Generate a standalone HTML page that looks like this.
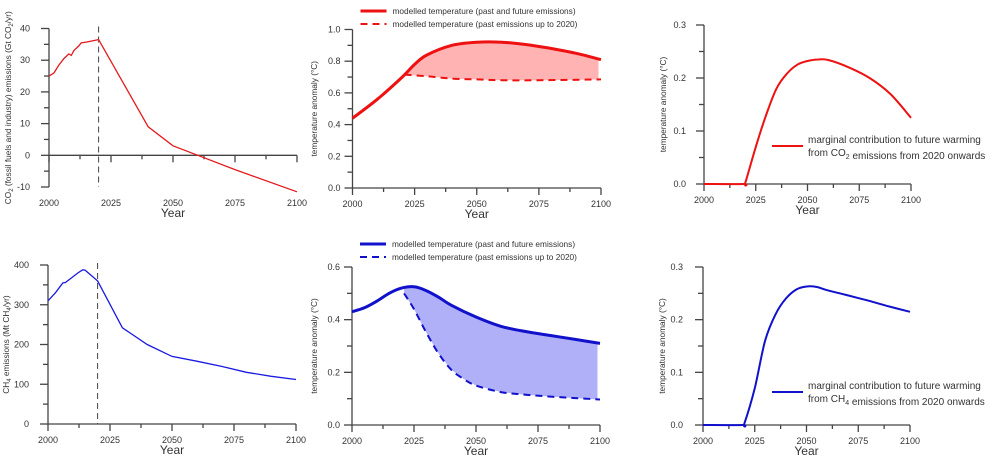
<!DOCTYPE html>
<html><head><meta charset="utf-8">
<style>
html,body{margin:0;padding:0;background:#fff;width:1000px;height:466px;overflow:hidden}
svg text{font-family:"Liberation Sans",Arial,sans-serif;fill:#333}
</style></head>
<body>
<svg id="chart" width="1000" height="466" viewBox="0 0 1000 466" xmlns="http://www.w3.org/2000/svg"></svg>
<script>
// ---- data ----
const xTicks = [2000, 2025, 2050, 2075, 2100];
const co2EmYears = [2000,2002,2004,2006,2008,2009,2010,2012,2013,2015,2020,2040,2050,2060,2075,2100];
const co2EmValues = [25,26,28.5,30.5,32,31.5,33,34.5,35.5,35.7,36.5,9,3,0,-4.5,-11.5];
const co2TempYears = [2000,2010,2020,2025,2030,2040,2050,2060,2070,2080,2090,2100];
const co2TempFull = [0.44,0.56,0.70,0.78,0.84,0.90,0.92,0.92,0.905,0.88,0.85,0.81];
const co2PastYears = [2021,2030,2040,2050,2060,2075,2100];
const co2PastValues = [0.715,0.705,0.69,0.685,0.68,0.68,0.685];
const co2MargYears = [2000,2019,2020,2025,2030,2035,2040,2045,2050,2055,2060,2070,2080,2090,2100];
const co2MargValues = [0,0,0.003,0.07,0.13,0.18,0.208,0.225,0.232,0.235,0.234,0.22,0.2,0.17,0.125];
const ch4EmYears = [2000,2003,2006,2007,2010,2012,2014,2015,2020,2030,2040,2050,2060,2070,2080,2090,2100];
const ch4EmValues = [310,330,355,356,370,380,388,387,360,242,200,170,158,145,130,120,112];
const ch4TempYears = [2000,2005,2010,2015,2020,2025,2030,2035,2040,2050,2060,2070,2080,2090,2100];
const ch4TempFull = [0.43,0.445,0.47,0.5,0.52,0.525,0.51,0.485,0.455,0.41,0.375,0.355,0.34,0.325,0.31];
const ch4PastYears = [2021,2025,2030,2035,2040,2045,2050,2060,2070,2080,2090,2100];
const ch4PastValues = [0.5,0.44,0.35,0.27,0.21,0.175,0.15,0.125,0.115,0.108,0.102,0.097];
const ch4MargYears = [2000,2019,2020,2025,2030,2035,2040,2045,2050,2055,2060,2070,2080,2090,2100];
const ch4MargValues = [0,0,0.003,0.07,0.16,0.21,0.24,0.257,0.263,0.262,0.256,0.246,0.236,0.225,0.215];
const co2EmTicks = [-10,0,10,20,30,40];
const tempTicks1 = [0.0,0.2,0.4,0.6,0.8,1.0];
const tempTicks2 = [0.0,0.2,0.4,0.6];
const margTicks = [0.0,0.1,0.2,0.3];
const ch4EmTicks = [0,100,200,300,400];

const svg = document.getElementById('chart');
const NS = 'http://www.w3.org/2000/svg';
function mk(tag, attrs, parent){const e=document.createElementNS(NS,tag);for(const k in attrs)e.setAttribute(k,attrs[k]);(parent||svg).appendChild(e);return e;}

function makePanel(c){
  const g = mk('g',{});
  
  
  c.sx = v => c.px0 + (v-2000)/100*(c.px1-c.px0);
  c.sy = v => c.py0 + (v-c.ymin)/(c.ymax-c.ymin)*(c.py1-c.py0);
  const ax = mk('g',{stroke:'#444','stroke-width':1.3,fill:'none'},g);
  
  
  const yb = c.sy(c.ymin), yt = c.sy(c.ymax), xa = c.sy(c.xAxisAt);
  mk('line',{x1:c.px0,y1:yb,x2:c.px0,y2:yt},ax);
  mk('line',{x1:c.px0,y1:xa,x2:c.px1,y2:xa},ax);
  for(let v=c.ymin; v<=c.ymax+1e-9; v+=c.minor){
    const y=c.sy(v); const major = c.yTicks.some(t=>Math.abs(t-v)<1e-9);
    mk('line',{x1:c.px0-(major?8:5),y1:y,x2:c.px0,y2:y},ax);
  }
  for(let v=2000; v<=2100; v+=12.5){
    const x=c.sx(v); const major = v%25===0;
    mk('line',{x1:x,y1:xa,x2:x,y2:xa+(major?7:4)},ax);
  }
  c.yTicks.forEach(t=>{
    const tx = mk('text',{x:c.px0-c.lo,y:c.sy(t)+3,'font-size':9,'text-anchor':'end'},g);
    tx.textContent = c.fmt(t);
    
    
  });
  xTicks.forEach(t=>{
    const tx = mk('text',{x:c.sx(t),y:yb+19,'font-size':9,'text-anchor':'middle'},g);
    tx.textContent = t;
    
    
  });
  const xt = mk('text',{x:c.sx(2050),y:yb+30,'font-size':12,'text-anchor':'middle'},g);
  xt.textContent='Year';
  
  
  const yl = mk('text',{transform:`translate(${c.ylx},${(yb+yt)/2}) rotate(-90)`,'font-size':8.3,'text-anchor':'middle'},g);
  yl.innerHTML = c.ylabel;
  
  
  c.g = g;
  return c;
}
function pts(c, xs, ys){return xs.map((x,i)=>[c.sx(x),c.sy(ys[i])]);}
function linePath(p){return 'M'+p.map(q=>q[0].toFixed(1)+','+q[1].toFixed(1)).join('L');}
function smoothPath(p){
  let d = 'M'+p[0][0]+','+p[0][1];
  for(let i=0;i<p.length-1;i++){
    const p0=p[i-1]||p[i], p1=p[i], p2=p[i+1], p3=p[i+2]||p2;
    const c1=[p1[0]+(p2[0]-p0[0])/6, p1[1]+(p2[1]-p0[1])/6];
    const c2=[p2[0]-(p3[0]-p1[0])/6, p2[1]-(p3[1]-p1[1])/6];
    d+=`C${c1[0].toFixed(1)},${c1[1].toFixed(1)} ${c2[0].toFixed(1)},${c2[1].toFixed(1)} ${p2[0].toFixed(1)},${p2[1].toFixed(1)}`;
  }
  return d;
}
function interp(xs, ys, x){
  for(let i=0;i<xs.length-1;i++) if(x>=xs[i]&&x<=xs[i+1]) return ys[i]+(ys[i+1]-ys[i])*(x-xs[i])/(xs[i+1]-xs[i]);
  return ys[ys.length-1];
}
function vline(c, name){
  const l = mk('line',{x1:c.sx(2020),x2:c.sx(2020),y1:c.sy(c.ymax)-2,y2:c.sy(c.ymin),stroke:'#444','stroke-width':1,'stroke-dasharray':'6,4'},c.g);
  
  
}
function tempPanel(c, fullY, fullV, pastY, pastV, color, fill, sw){
  const fx=[];
  for(let x=pastY[0]; x<=2099; x+=1){fx.push(x);}
  const fp = mk('path',{fill:fill,stroke:'none'},c.g);
  const up = fx.map(x=>[c.sx(x),c.sy(interp(fullY,fullV,x))]);
  const lo = fx.map(x=>[c.sx(x),c.sy(interp(pastY,pastV,x))]).reverse();
  fp.setAttribute('d', linePath(up)+'L'+lo.map(q=>q[0].toFixed(1)+','+q[1].toFixed(1)).join('L')+'Z');
  
  
  const pp = mk('path',{d:smoothPath(pts(c,pastY,pastV)),fill:'none',stroke:color,'stroke-width':2,'stroke-dasharray':'7,5'},c.g);
  
  
  const fl2 = mk('path',{d:smoothPath(pts(c,fullY,fullV)),fill:'none',stroke:color,'stroke-width':sw},c.g);
  
  
}
function tempLegend(c, ly, color, sw){
  const lg = mk('g',{},c.g);
  
  
  const e1 = mk('g',{},lg);
  
  
  mk('line',{x1:c.px0+8,x2:c.px0+34,y1:ly,y2:ly,stroke:color,'stroke-width':sw},e1);
  const t1 = mk('text',{x:c.px0+40,y:ly+3,'font-size':8.3},e1);
  t1.textContent='modelled temperature (past and future emissions)';
  const e2 = mk('g',{},lg);
  
  
  mk('line',{x1:c.px0+8,x2:c.px0+34,y1:ly+13,y2:ly+13,stroke:color,'stroke-width':2,'stroke-dasharray':'7,5'},e2);
  const t2 = mk('text',{x:c.px0+40,y:ly+16,'font-size':8.3},e2);
  t2.textContent='modelled temperature (past emissions up to 2020)';
}
function margLegend(c, ly, color, gas){
  const lg = mk('g',{},c.g);
  
  
  mk('line',{x1:772,x2:803,y1:ly,y2:ly,stroke:color,'stroke-width':2},lg);
  const t1 = mk('text',{x:808,y:ly-3,'font-size':10},lg);
  t1.textContent='marginal contribution to future warming';
  const t2 = mk('text',{x:808,y:ly+10,'font-size':10},lg);
  t2.innerHTML='from '+gas+' emissions from 2020 onwards';
}
const f1 = v=>v.toFixed(1), f0 = v=>String(v);
function linPanel(o){ o.py0 = o.bottom; o.py1 = o.top; return makePanel(o); }

const P1 = linPanel({name:'co2-emissions-panel',px0:49,px1:297,bottom:187,top:28.5,ymin:-10,ymax:40,xAxisAt:0,minor:5,yTicks:co2EmTicks,fmt:f0,ylx:11,lo:19,
  ylabel:'CO<tspan font-size="6" dy="2">2</tspan><tspan dy="-2"> (fossil fuels and industry) emissions (Gt CO</tspan><tspan font-size="6" dy="2">2</tspan><tspan dy="-2">/yr)</tspan>'});
vline(P1,'year-2020-marker');
{const l = mk('path',{d:linePath(pts(P1,co2EmYears,co2EmValues)),fill:'none',stroke:'#e31a1c','stroke-width':1.3},P1.g);

}

const P2 = linPanel({name:'co2-temperature-panel',px0:352.5,px1:601,bottom:188,top:29.5,ymin:0,ymax:1.0,xAxisAt:0,minor:0.1,yTicks:tempTicks1,fmt:f1,ylx:317,lo:12,ylabel:'temperature anomaly (°C)'});
tempPanel(P2, co2TempYears, co2TempFull, co2PastYears, co2PastValues, '#ee1111', '#ffb3b3', 3);
tempLegend(P2, 11, '#ee1111', 3);

const P3 = linPanel({name:'co2-marginal-panel',px0:704,px1:911,bottom:184,top:25,ymin:0,ymax:0.3,xAxisAt:0,minor:0.05,yTicks:margTicks,fmt:f1,ylx:666,lo:18,ylabel:'temperature anomaly (°C)'});
{const l = mk('path',{d:smoothPath(pts(P3,co2MargYears,co2MargValues)),fill:'none',stroke:'#ee1111','stroke-width':2},P3.g);

}
margLegend(P3, 146, '#ee1111', 'CO<tspan font-size="7" dy="3">2</tspan><tspan dy="-3"></tspan>');

const P4 = linPanel({name:'ch4-emissions-panel',px0:48,px1:296,bottom:424,top:265,ymin:0,ymax:400,xAxisAt:0,minor:50,yTicks:ch4EmTicks,fmt:f0,ylx:9,lo:19,
  ylabel:'CH<tspan font-size="6" dy="2">4</tspan><tspan dy="-2"> emissions (Mt CH</tspan><tspan font-size="6" dy="2">4</tspan><tspan dy="-2">/yr)</tspan>'});
vline(P4,'year-2020-marker');
{const l = mk('path',{d:linePath(pts(P4,ch4EmYears,ch4EmValues)),fill:'none',stroke:'#1a1ae0','stroke-width':1.3},P4.g);

}

const P5 = linPanel({name:'ch4-temperature-panel',px0:352,px1:600,bottom:425,top:267,ymin:0,ymax:0.6,xAxisAt:0,minor:0.1,yTicks:tempTicks2,fmt:f1,ylx:317,lo:12,ylabel:'temperature anomaly (°C)'});
tempPanel(P5, ch4TempYears, ch4TempFull, ch4PastYears, ch4PastValues, '#1111cc', '#b0b0f8', 3);
tempLegend(P5, 244, '#1111cc', 3);

const P6 = linPanel({name:'ch4-marginal-panel',px0:703,px1:910,bottom:425,top:267,ymin:0,ymax:0.3,xAxisAt:0,minor:0.05,yTicks:margTicks,fmt:f1,ylx:665,lo:20,ylabel:'temperature anomaly (°C)'});
{const l = mk('path',{d:smoothPath(pts(P6,ch4MargYears,ch4MargValues)),fill:'none',stroke:'#1111cc','stroke-width':2},P6.g);

}
margLegend(P6, 392, '#1111cc', 'CH<tspan font-size="7" dy="3">4</tspan><tspan dy="-3"></tspan>');
</script>
</body></html>
